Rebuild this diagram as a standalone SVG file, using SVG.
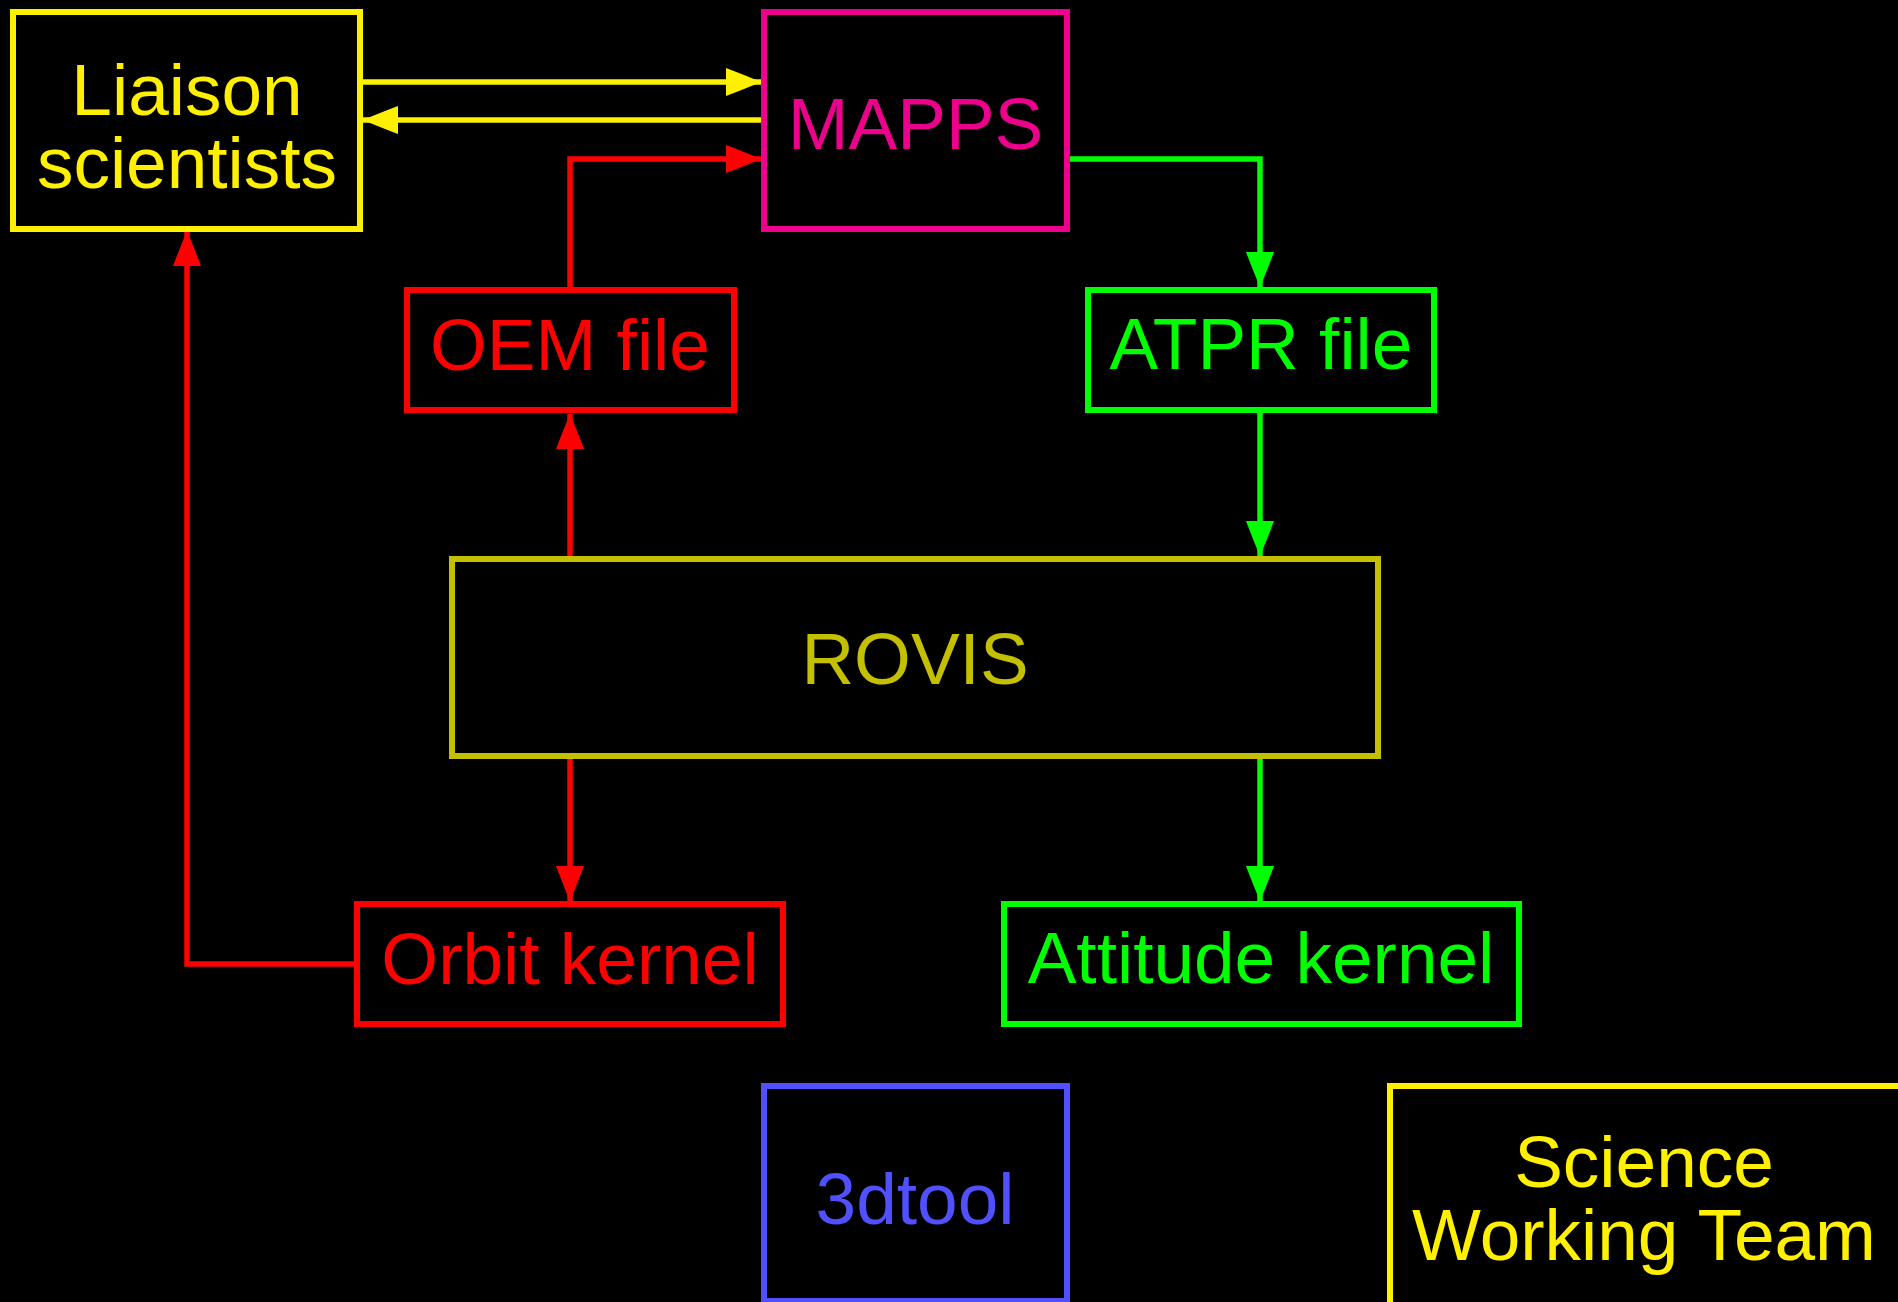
<svg xmlns="http://www.w3.org/2000/svg" width="1898" height="1302" viewBox="0 0 1898 1302">
  <style>
    .box { fill: #000000; stroke-width: 6; }
    .lbl { font-family: "Liberation Sans", Arial, sans-serif; font-size: 73px; text-anchor: middle; }
    .conn { fill: none; stroke-width: 5.5; }
  </style>
  <defs>
    <marker id="ay" markerUnits="userSpaceOnUse" markerWidth="40" markerHeight="32" viewBox="-36 -16 38 32" refX="0" refY="0" orient="auto">
      <path d="M0,0 Q-14,-6 -35,-14 L-35,14 Q-14,6 0,0 Z" fill="#FFF000"/>
    </marker>
    <marker id="ar" markerUnits="userSpaceOnUse" markerWidth="40" markerHeight="32" viewBox="-36 -16 38 32" refX="0" refY="0" orient="auto">
      <path d="M0,0 Q-14,-6 -35,-14 L-35,14 Q-14,6 0,0 Z" fill="#FF0000"/>
    </marker>
    <marker id="ag" markerUnits="userSpaceOnUse" markerWidth="40" markerHeight="32" viewBox="-36 -16 38 32" refX="0" refY="0" orient="auto">
      <path d="M0,0 Q-14,-6 -35,-14 L-35,14 Q-14,6 0,0 Z" fill="#00FF00"/>
    </marker>
  </defs>
  <rect x="0" y="0" width="1898" height="1302" fill="#000000"/>

  <g id="connectors">
    <line class="conn" x1="363" y1="82" x2="761" y2="82" stroke="#FFF000" marker-end="url(#ay)"/>
    <line class="conn" x1="761" y1="120" x2="363" y2="120" stroke="#FFF000" marker-end="url(#ay)"/>
    <path class="conn" d="M570,290 L570,159 L761,159" stroke="#FF0000" marker-end="url(#ar)"/>
    <path class="conn" d="M1067,159 L1260,159 L1260,287" stroke="#00FF00" marker-end="url(#ag)"/>
    <line class="conn" x1="1260" y1="410" x2="1260" y2="556" stroke="#00FF00" marker-end="url(#ag)"/>
    <line class="conn" x1="570" y1="559" x2="570" y2="414" stroke="#FF0000" marker-end="url(#ar)"/>
    <line class="conn" x1="570" y1="756" x2="570" y2="901" stroke="#FF0000" marker-end="url(#ar)"/>
    <line class="conn" x1="1260" y1="756" x2="1260" y2="901" stroke="#00FF00" marker-end="url(#ag)"/>
    <path class="conn" d="M357,964 L187,964 L187,231" stroke="#FF0000" marker-end="url(#ar)"/>
  </g>

  <g id="liaison">
    <rect class="box" x="13" y="12" width="347" height="217" stroke="#FFF000"/>
    <text class="lbl" x="187" y="115" fill="#FFF000">Liaison</text>
    <text class="lbl" x="187" y="188" fill="#FFF000">scientists</text>
  </g>
  <g id="mapps">
    <rect class="box" x="764" y="12" width="303" height="217" stroke="#EC008C"/>
    <text class="lbl" x="915.5" y="149" fill="#EC008C">MAPPS</text>
  </g>
  <g id="oem">
    <rect class="box" x="407" y="290" width="327" height="120" stroke="#FF0000"/>
    <text class="lbl" x="570" y="370" fill="#FF0000">OEM file</text>
  </g>
  <g id="atpr">
    <rect class="box" x="1088" y="290" width="346" height="120" stroke="#00FF00"/>
    <text class="lbl" x="1261" y="369" fill="#00FF00">ATPR file</text>
  </g>
  <g id="rovis">
    <rect class="box" x="452" y="559" width="926" height="197" stroke="#C4C000"/>
    <text class="lbl" x="915" y="684" fill="#C4C000">ROVIS</text>
  </g>
  <g id="orbit">
    <rect class="box" x="357" y="904" width="426" height="120" stroke="#FF0000"/>
    <text class="lbl" x="570" y="984" fill="#FF0000">Orbit kernel</text>
  </g>
  <g id="attitude">
    <rect class="box" x="1004" y="904" width="515" height="120" stroke="#00FF00"/>
    <text class="lbl" x="1261" y="983" fill="#00FF00">Attitude kernel</text>
  </g>
  <g id="tool3d">
    <rect class="box" x="764" y="1086" width="303" height="215" stroke="#5050FF"/>
    <text class="lbl" x="915" y="1224" fill="#5050FF">3dtool</text>
  </g>
  <g id="swt">
    <rect class="box" x="1390" y="1086" width="600" height="240" stroke="#FFF000"/>
    <text class="lbl" x="1644" y="1187" fill="#FFF000">Science</text>
    <text class="lbl" x="1644" y="1260" fill="#FFF000">Working Team</text>
  </g>
</svg>
